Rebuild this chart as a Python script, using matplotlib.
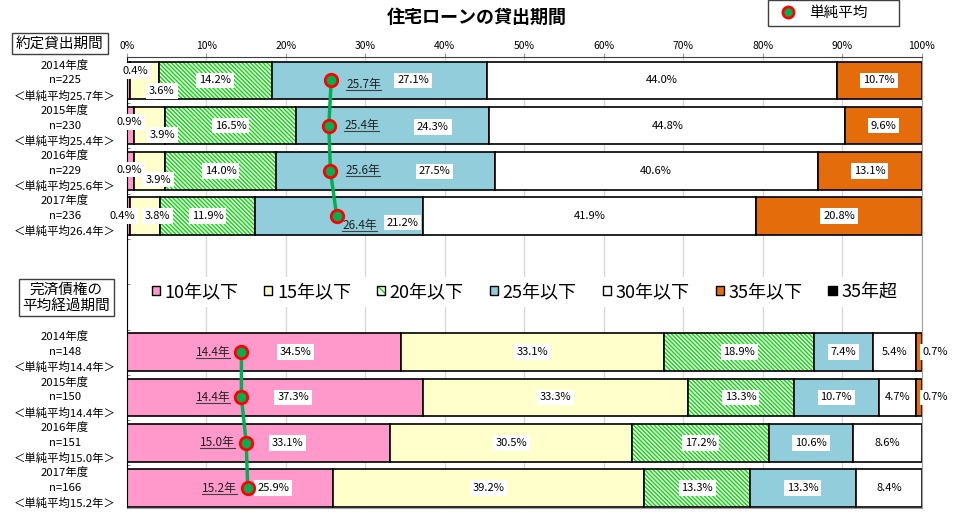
import matplotlib
matplotlib.use('Agg')
import matplotlib.pyplot as plt
from matplotlib.patches import Patch
from matplotlib.lines import Line2D
from matplotlib.legend_handler import HandlerTuple
from matplotlib.transforms import blended_transform_factory, IdentityTransform

plt.rcParams['font.family'] = ['Noto Sans CJK JP', 'DejaVu Sans']
plt.rcParams['hatch.linewidth'] = 1.0

# categories of the stacked bars
CATEGORIES = ['10年以下', '15年以下', '20年以下', '25年以下', '30年以下', '35年以下', '35年超']
YEARS = ['2014年度', '2015年度', '2016年度', '2017年度']

# 約定貸出期間
LOAN_N = [225, 230, 229, 236]
LOAN_AVG = [25.7, 25.4, 25.6, 26.4]
LOAN_SHARE = [
    [0.4, 3.6, 14.2, 27.1, 44.0, 10.7, 0.0],
    [0.9, 3.9, 16.5, 24.3, 44.8, 9.6, 0.0],
    [0.9, 3.9, 14.0, 27.5, 40.6, 13.1, 0.0],
    [0.4, 3.8, 11.9, 21.2, 41.9, 20.8, 0.0],
]

# 完済債権の平均経過期間
PAID_N = [148, 150, 151, 166]
PAID_AVG = [14.4, 14.4, 15.0, 15.2]
PAID_SHARE = [
    [34.5, 33.1, 18.9, 7.4, 5.4, 0.7, 0.0],
    [37.3, 33.3, 13.3, 10.7, 4.7, 0.7, 0.0],
    [33.1, 30.5, 17.2, 10.6, 8.6, 0.0, 0.0],
    [25.9, 39.2, 13.3, 13.3, 8.4, 0.0, 0.0],
]

COLORS = ['#FF99CC', '#FFFFCC', 'white', '#92CDDC', 'white', '#E46C0A', 'black']
HATCH_GREEN = '#00DD00'
AVG_GREEN = '#00B050'
BAR_H = 0.83
GROUP_OFFSET = [0, 6]
HATCH = '\\' * 8
LINE_STEP = 0.34   # spacing of the three row label lines, in row units

# label positions that were moved away from the segment centre: (x, dy)
LABEL_POS = {
    (0, 0, 0): (1.0, -0.21), (0, 0, 1): (4.4, 0.23), (0, 0, 3): (36.0, 0.0),
    (0, 1, 0): (0.3, -0.08), (0, 1, 1): (4.5, 0.21), (0, 1, 3): (38.5, 0.03),
    (0, 2, 0): (0.3, -0.03), (0, 2, 1): (3.9, 0.19), (0, 2, 3): (38.7, 0.01),
    (0, 3, 0): (-0.6, 0.0), (0, 3, 1): (3.8, 0.0), (0, 3, 3): (34.7, 0.14),
    (1, 0, 0): (21.2, 0.0), (1, 1, 0): (20.9, 0.0),
    (1, 2, 0): (20.2, 0.0), (1, 3, 0): (18.4, 0.0),
    (1, 0, 5): (101.7, 0.0), (1, 1, 5): (101.7, 0.0),
}
# offsets (points) of the average labels from the marker
AVG_TEXT_OFF = [[(11, -3), (11, 0), (11, 0), (4, -7)],
                [(-8, 0), (-8, 0), (-8, 0), (-8, 0)]]

fig = plt.figure(figsize=(9.62, 5.18), dpi=100)
ax = fig.add_axes([0.132, 0.0193, 0.826, 0.871])
ax.set_xlim(0, 100)
ax.set_ylim(9.44, -0.52)

ax.set_xticks(range(0, 101, 10))
ax.set_xticklabels(['{}%'.format(t) for t in range(0, 101, 10)])
ax.tick_params(axis='x', top=True, labeltop=True, bottom=False,
               labelbottom=False, length=3, color='#A0A0A0',
               labelsize=7.5, pad=1)
ax.set_yticks([])
ax.set_yticks([i + 0.5 for i in range(9)], minor=True)
ax.tick_params(axis='y', which='minor', direction='in', length=2,
               color='#606060', left=True)
ax.grid(axis='x', color='#D9D9D9', linewidth=1)
ax.set_axisbelow(True)
ax.spines['left'].set_color('black')
ax.spines['top'].set_color('#404040')
ax.spines['right'].set_color('#A0A0A0')
ax.spines['bottom'].set_color('#A0A0A0')

label_box = dict(boxstyle='square,pad=0.25', facecolor='white', edgecolor='none')
row_tf = blended_transform_factory(fig.transFigure, ax.transData)
avg_texts = []

for g, (shares, avgs, ns) in enumerate([(LOAN_SHARE, LOAN_AVG, LOAN_N),
                                         (PAID_SHARE, PAID_AVG, PAID_N)]):
    ys = [r + GROUP_OFFSET[g] for r in range(len(shares))]
    for r, row in enumerate(shares):
        y = ys[r]
        left = 0.0
        for k, v in enumerate(row):
            if v <= 0:
                continue
            if k == 2:
                ax.barh(y, v, left=left, height=BAR_H, color='white',
                        edgecolor=HATCH_GREEN, hatch=HATCH, linewidth=0)
                ax.barh(y, v, left=left, height=BAR_H, fill=False,
                        edgecolor='black', linewidth=1.2)
            else:
                ax.barh(y, v, left=left, height=BAR_H, color=COLORS[k],
                        edgecolor='black', linewidth=1.2)
            x, dy = LABEL_POS.get((g, r, k), (left + v / 2, 0.0))
            ax.text(x, y + dy, '{:.1f}%'.format(v), ha='center', va='center',
                    fontsize=8, bbox=label_box, zorder=5)
            left += v
        # row label on the left, one text per line
        lines = [YEARS[r], 'n={}'.format(ns[r]), '＜単純平均{}年＞'.format(avgs[r])]
        for i, line in enumerate(lines):
            ax.text(0.0676, y + (i - 1) * LINE_STEP, line, transform=row_tf,
                    ha='center', va='center', fontsize=8.2)

    # simple average line
    ax.plot(avgs, ys, '-', color=AVG_GREEN, linewidth=2.5, zorder=6)
    ax.plot(avgs, ys, 'o', color=AVG_GREEN, markeredgecolor='red',
            markeredgewidth=2, markersize=9, zorder=7)
    for r, a in enumerate(avgs):
        dx, dy = AVG_TEXT_OFF[g][r]
        t = ax.annotate('{}年'.format(a), (a, ys[r]), xytext=(dx, dy),
                        textcoords='offset points', va='center',
                        ha='left' if dx > 0 else 'right',
                        fontsize=8.5, color='#202020', zorder=8)
        avg_texts.append(t)

# category legend in the gap
handles = []
for k, c in enumerate(COLORS):
    if k == 2:
        handles.append((Patch(facecolor='white', edgecolor=HATCH_GREEN,
                              hatch='\\' * 4, linewidth=0),
                        Patch(fill=False, edgecolor='black', linewidth=1)))
    else:
        handles.append(Patch(facecolor=c, edgecolor='black', linewidth=1))
leg = ax.legend(handles, CATEGORIES, ncol=7, loc='center',
                bbox_to_anchor=(0.5, 0.479), frameon=True, fancybox=False,
                facecolor='white', edgecolor='none', framealpha=1,
                fontsize=13, handlelength=0.45, handleheight=0.45,
                handletextpad=0.25, columnspacing=1.45, borderpad=0.35,
                handler_map={tuple: HandlerTuple(ndivide=1)})

# average marker legend (top right)
avg_handle = Line2D([], [], marker='o', linestyle='none', color=AVG_GREEN,
                    markeredgecolor='red', markeredgewidth=2, markersize=8)
fig.legend([avg_handle], ['単純平均'], loc='upper left',
           bbox_to_anchor=(768 / 962, 0.0, 131 / 962, 1.0), mode='expand',
           frameon=True, fancybox=False, edgecolor='#404040', framealpha=1,
           fontsize=10.5, handlelength=2.0, handletextpad=0.45,
           borderpad=0.4, borderaxespad=0)

fig.text(477 / 962, 1 - 17 / 518, '住宅ローンの貸出期間', ha='center',
         va='center', fontsize=13, fontweight='bold')

box = dict(boxstyle='square,pad=0.25', facecolor='white', edgecolor='#404040')
fig.text(60 / 962, 1 - 43.5 / 518, '約定貸出期間', ha='center', va='center',
         fontsize=10.5, bbox=box)
fig.text(66.5 / 962, 1 - 297.5 / 518, '完済債権の\n平均経過期間', ha='center',
         va='center', fontsize=10.5, linespacing=1.2, bbox=box)

# underline the average labels
fig.canvas.draw()
renderer = fig.canvas.get_renderer()
for t in avg_texts:
    bb = t.get_window_extent(renderer)
    fig.add_artist(Line2D([bb.x0, bb.x1], [bb.y0 + 1, bb.y0 + 1],
                          transform=IdentityTransform(), color='#404040',
                          linewidth=0.8, zorder=9))

fig.savefig('out.png', dpi=100)
